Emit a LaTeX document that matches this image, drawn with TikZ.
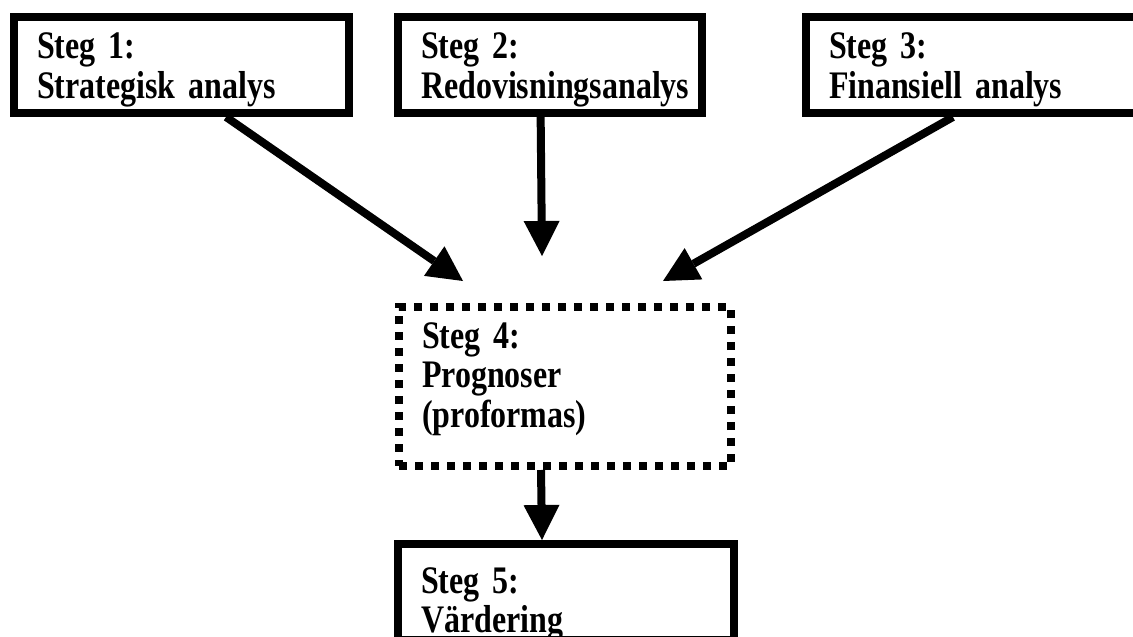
\documentclass[tikz,border=0pt]{standalone}
\usepackage{fontspec}
\setmainfont{Liberation Serif}
\newfontfamily\stegfont[FakeStretch=0.82]{Liberation Serif}
\newcommand\stegspace{\spaceskip=3.6pt\relax}
\usepackage{tikz}
\usetikzlibrary{arrows.meta,calc}
\hfuzz=30pt

\begin{document}
\begin{tikzpicture}[
  x=0.5pt, y=-0.5pt,
  stepbox/.style={rectangle, draw=black, line width=4pt, anchor=north west, align=left,
    font=\stegfont\fontsize{19.5pt}{19.75pt}\selectfont\bfseries\stegspace, inner xsep=11.5pt, inner ysep=0pt,
    text width=144.5pt, text height=21pt, text depth=27pt},
  forecast/.style={stepbox, dash pattern=on 4pt off 4pt},
  arrow/.style={-{Triangle[length=17.5pt, width=18pt, line width=0pt]}, line width=4pt}
]
\clip (0,0) rectangle (1133,636);
\node[stepbox] (strat) at (10,13) {Steg 1:\\Strategisk analys};
\node[stepbox, text width=129pt] (redov) at (394,13) {Steg 2:\\Redovisningsanalys};
\node[stepbox] (finans) at (802,13) {Steg 3:\\Finansiell analys};
\node[forecast, text width=143pt, text height=20.5pt, text depth=59pt] (progn) at (395,303) {Steg 4:\\Prognoser\\(proformas)};
\node[stepbox, text width=145pt, text height=24.5pt, text depth=23.5pt] (varde) at (394,540) {Steg 5:\\Värdering};
% pilarnas fria ändar ovanför steg 4
\coordinate (in1) at (463,281);
\coordinate (in2) at (542,256);
\coordinate (in3) at (663,281);
\draw[arrow] ($(strat.south west)!0.63!(strat.south east)$) -- (in1);
\draw[arrow] ($(redov.south west)!0.47!(redov.south east)$) -- (in2);
\draw[arrow] ($(finans.south west)!0.44!(finans.south east)$) -- (in3);
\draw[arrow] ([xshift=-12pt]progn.south) -- ([xshift=-12pt]varde.north);
\end{tikzpicture}
\end{document}
